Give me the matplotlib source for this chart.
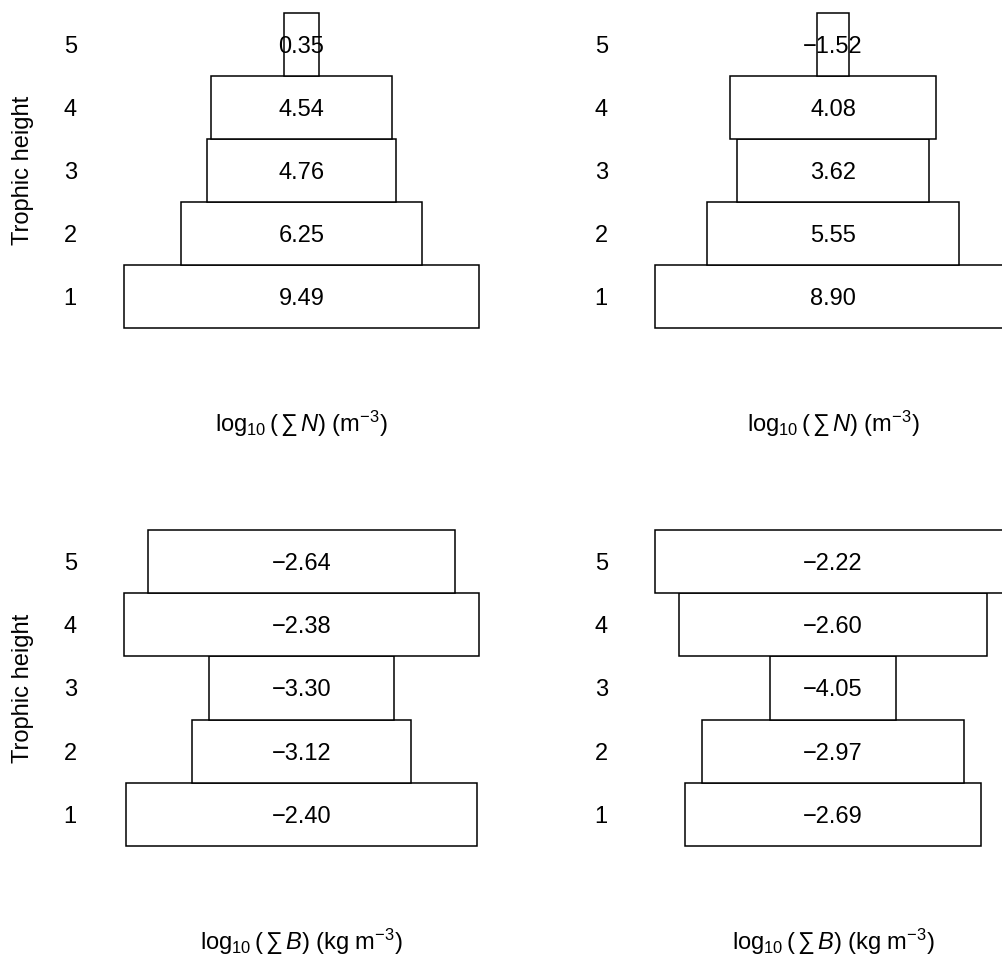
import numpy as np
import matplotlib.pyplot as plt

plt.rcParams['font.family'] = ['Liberation Sans', 'DejaVu Sans']
plt.rcParams['mathtext.fontset'] = 'custom'
plt.rcParams['mathtext.rm'] = 'Liberation Sans'
plt.rcParams['mathtext.it'] = 'Liberation Sans:italic'
plt.rcParams['mathtext.bf'] = 'Liberation Sans:bold'

levels = [1, 2, 3, 4, 5]

# log10 of summed abundance / biomass per trophic height
abund_left = [9.49, 6.25, 4.76, 4.54, 0.35]
abund_right = [8.90, 5.55, 3.62, 4.08, -1.52]
biom_left = [-2.40, -3.12, -3.30, -2.38, -2.64]
biom_right = [-2.69, -2.97, -4.05, -2.60, -2.22]

lab_N = r'$\log_{10}(\,\sum\,N)\ (\mathrm{m}^{-3})$'
lab_B = r'$\log_{10}(\,\sum\,B)\ (\mathrm{kg\ m}^{-3})$'

W, H = 1003, 956
fig = plt.figure(figsize=(W / 100, H / 100), dpi=100)

# axes boxes in pixels: left, top, width, height
boxes = [
    (124, 13, 355, 315),
    (655, 13, 356, 315),
    (124, 530, 355, 316),
    (655, 530, 356, 316),
]
panels = [
    (abund_left, lab_N, True),
    (abund_right, lab_N, False),
    (biom_left, lab_B, True),
    (biom_right, lab_B, False),
]

FS = 17

for (x0, y0, w, h), (vals, xlab, show_ylab) in zip(boxes, panels):
    ax = fig.add_axes([x0 / W, (H - y0 - h) / H, w / W, h / H])
    vals = np.array(vals)
    widths = vals - vals.min() + 1
    bars = ax.barh(levels, widths, left=-widths / 2, height=1,
                   facecolor='white', edgecolor='black', linewidth=1.1)
    for b in bars:
        b.set_clip_on(False)
    for lv, v in zip(levels, vals):
        ax.text(0, lv, f'{v:.2f}'.replace('-', '\u2212'), ha='center',
                va='center_baseline', fontsize=FS, zorder=5)
    mx = widths.max()
    ax.set_xlim(-mx / 2, mx / 2)
    ax.set_ylim(0.5, 5.5)
    ax.set_yticks(levels)
    ax.set_yticklabels([str(l) for l in levels], fontsize=FS, va='center_baseline')
    ax.tick_params(axis='y', length=0, pad=34)
    ax.set_xticks([])
    for s in ax.spines.values():
        s.set_visible(False)
    ax.patch.set_alpha(0)
    ax.text(0.5, -96 / h, xlab, transform=ax.transAxes, ha='center', va='center',
            fontsize=FS)
    if show_ylab:
        ax.text(-101 / w, 0.5, 'Trophic height', transform=ax.transAxes,
                rotation=90, ha='center', va='center', fontsize=FS)

fig.savefig('out.png', dpi=100)
